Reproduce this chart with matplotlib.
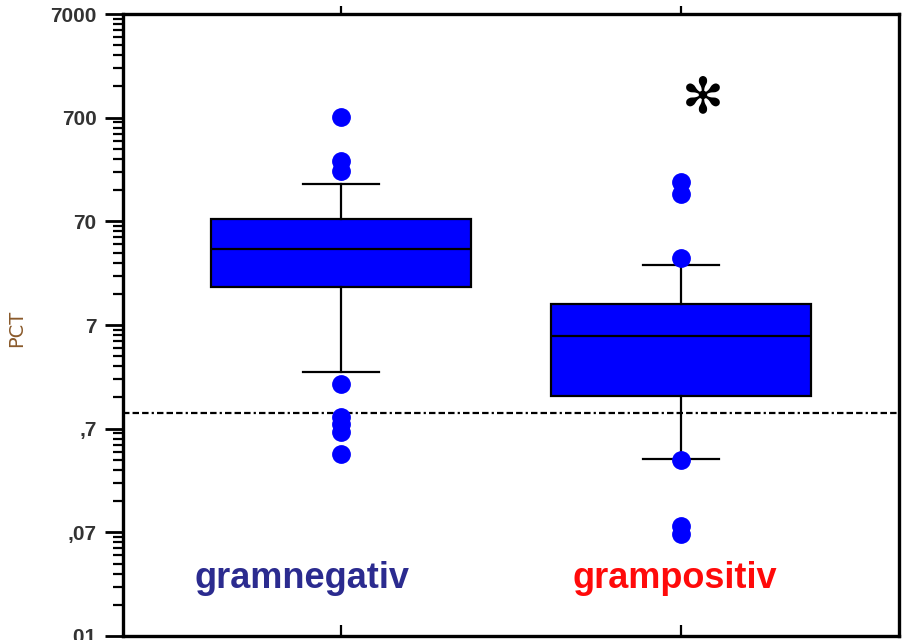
import matplotlib
matplotlib.use("Agg")
import matplotlib.pyplot as plt
import matplotlib.ticker as mticker
import matplotlib.lines as mlines

# ---- data ----
categories = ["gramnegativ", "grampositiv"]
cat_colors = ["#2b2b8f", "#ff0a0a"]
q1 = [16.3, 1.45]
median = [37.9, 5.5]
q3 = [74.0, 11.2]
whisker_low = [2.46, 0.357]
whisker_high = [160.0, 26.5]
fliers = [
    [711, 265, 216, 1.9, 0.90, 0.77, 0.65, 0.40],
    [166, 128, 31, 0.35, 0.081, 0.068],
]
cutoff = 1.0
y_ticks = [7000, 700, 70, 7, 0.7, 0.07, 0.007]
y_tick_labels = ["7000", "700", "70", "7", ",7", ",07", ",01"]
y_label = "PCT"

fig = plt.figure(figsize=(9.02, 6.40), dpi=100)
ax = fig.add_axes([123/902, 4/640, 776/902, 622/640])
ax.set_yscale("log")

stats = []
for i, name in enumerate(categories):
    stats.append(dict(med=median[i], q1=q1[i], q3=q3[i],
                      whislo=whisker_low[i], whishi=whisker_high[i],
                      fliers=fliers[i], label=name))

positions = [1, 2]
ax.bxp(stats, positions=positions, widths=0.765, capwidths=0.225,
       patch_artist=True, showfliers=True,
       boxprops=dict(facecolor="#0000ff", edgecolor="black", linewidth=1.6),
       medianprops=dict(color="black", linewidth=1.6),
       whiskerprops=dict(color="black", linewidth=1.6),
       capprops=dict(color="black", linewidth=1.6),
       flierprops=dict(marker="o", markerfacecolor="#0000ff",
                       markeredgecolor="#0000ff", markersize=12.5, linestyle="none"))

ax.axhline(cutoff, color="black", linewidth=1.6,
           linestyle=(0, (2.9, 1.4, 2.9, 1.4, 2.9, 1.4, 1.0, 1.4)), zorder=1)

ax.set_xlim(0.358, 2.641)
ax.set_ylim(0.007, 7000)

ax.yaxis.set_major_locator(mticker.FixedLocator(y_ticks))
ax.yaxis.set_major_formatter(mticker.FixedFormatter(y_tick_labels))
ax.yaxis.set_minor_locator(mticker.LogLocator(base=10, subs=[1.4, 2.1, 2.8, 3.5, 4.2, 4.9, 5.6, 6.3], numticks=50))
ax.yaxis.set_minor_formatter(mticker.NullFormatter())
ax.tick_params(axis="y", which="major", direction="out", length=13, width=2.0,
               labelsize=15, labelcolor="#333333", pad=6)
ax.tick_params(axis="y", which="minor", direction="out", length=7, width=1.6)

ax.set_xticks(positions)
ax.set_xticklabels([])
ax.tick_params(axis="x", which="major", bottom=True, top=True, direction="out",
               length=6, width=1.6)
for t in ax.xaxis.get_major_ticks():
    t.tick1line.set_marker(mlines.TICKUP)
    t.tick1line.set_markersize(8)

for s in ax.spines.values():
    s.set_linewidth(2.4)

ax.set_ylabel(y_label, fontsize=14, color="#8a5a2b", labelpad=28)
ax.yaxis.set_label_coords(-0.125, 0.495)

for lab in ax.get_yticklabels():
    lab.set_fontfamily("Liberation Sans")
    lab.set_fontweight("bold")

# asterisk annotation
ax.text(2.065, 1083, "\u273b", fontsize=36, ha="center", va="center", color="black")

# category labels
label_x = [0.885, 1.98]
for i, name in enumerate(categories):
    ax.text(label_x[i], 0.0205, name, fontsize=26, fontweight="bold",
            fontfamily="Liberation Sans", color=cat_colors[i],
            ha="center", va="baseline")

fig.savefig("out.png", dpi=100)
